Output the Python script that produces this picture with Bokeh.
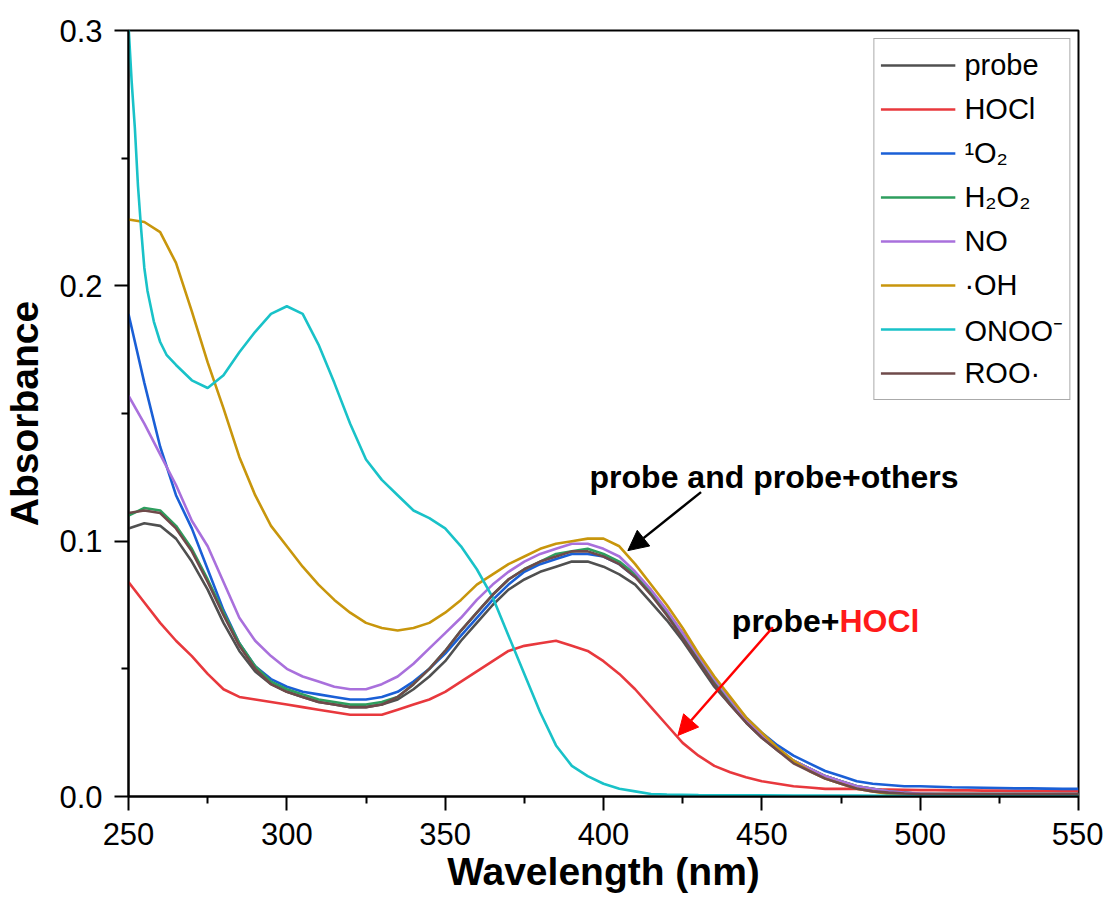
from bokeh.plotting import figure
from bokeh.models import (Legend, LegendItem, Arrow, NormalHead, Label,
                          FixedTicker, PrintfTickFormatter, Range1d)
from bokeh.embed import file_html
from bokeh.resources import INLINE

# ---------------- data ----------------
wavelength = list(range(250, 551, 5))

probe = [0.105, 0.107, 0.106, 0.101, 0.092, 0.081, 0.068, 0.057, 0.049, 0.044, 0.041,
         0.039, 0.037, 0.036, 0.035, 0.035, 0.036, 0.038, 0.042, 0.047, 0.053,
         0.061, 0.068, 0.075, 0.081, 0.085, 0.088, 0.090, 0.092, 0.092, 0.090,
         0.087, 0.083, 0.076, 0.069, 0.061, 0.052, 0.043, 0.036, 0.029, 0.023,
         0.018, 0.014, 0.011, 0.008, 0.006, 0.004, 0.003, 0.002, 0.0015, 0.001,
         0.001, 0.001, 0.001, 0.001, 0.001, 0.001, 0.001, 0.001, 0.001, 0.001]

hocl = [0.084, 0.076, 0.068, 0.061, 0.055, 0.048, 0.042, 0.039, 0.038, 0.037, 0.036,
        0.035, 0.034, 0.033, 0.032, 0.032, 0.032, 0.034, 0.036, 0.038, 0.041,
        0.045, 0.049, 0.053, 0.057, 0.059, 0.060, 0.061, 0.059, 0.057, 0.053,
        0.048, 0.042, 0.035, 0.028, 0.021, 0.016, 0.012, 0.0095, 0.0075, 0.006,
        0.005, 0.004, 0.0035, 0.003, 0.003, 0.003, 0.0028, 0.0027, 0.0026, 0.0025,
        0.0025, 0.0024, 0.0024, 0.0023, 0.0023, 0.0022, 0.0022, 0.0022, 0.0021, 0.0021]

singlet_o2 = [0.189, 0.162, 0.137, 0.118, 0.105, 0.089, 0.073, 0.060, 0.051, 0.046, 0.043,
              0.041, 0.040, 0.039, 0.038, 0.038, 0.039, 0.041, 0.045, 0.050, 0.056,
              0.063, 0.070, 0.077, 0.083, 0.088, 0.091, 0.093, 0.095, 0.095, 0.094,
              0.091, 0.086, 0.080, 0.072, 0.064, 0.055, 0.046, 0.038, 0.031, 0.025,
              0.020, 0.016, 0.013, 0.010, 0.008, 0.006, 0.005, 0.0045, 0.004, 0.004,
              0.0038, 0.0036, 0.0035, 0.0034, 0.0033, 0.0032, 0.0032, 0.0031, 0.003, 0.003]

h2o2 = [0.110, 0.113, 0.112, 0.106, 0.097, 0.085, 0.072, 0.060, 0.051, 0.045, 0.042,
        0.040, 0.038, 0.037, 0.036, 0.036, 0.037, 0.039, 0.044, 0.050, 0.057,
        0.065, 0.072, 0.079, 0.085, 0.089, 0.092, 0.095, 0.096, 0.097, 0.095,
        0.092, 0.087, 0.080, 0.072, 0.063, 0.054, 0.045, 0.037, 0.030, 0.024,
        0.019, 0.014, 0.011, 0.008, 0.006, 0.004, 0.003, 0.002, 0.0015, 0.001,
        0.001, 0.001, 0.001, 0.001, 0.001, 0.001, 0.001, 0.001, 0.001, 0.001]

no = [0.157, 0.146, 0.134, 0.122, 0.108, 0.098, 0.084, 0.070, 0.061, 0.055, 0.050,
      0.047, 0.045, 0.043, 0.042, 0.042, 0.044, 0.047, 0.052, 0.058, 0.064,
      0.070, 0.077, 0.083, 0.088, 0.092, 0.095, 0.097, 0.099, 0.099, 0.097,
      0.094, 0.088, 0.081, 0.073, 0.064, 0.055, 0.046, 0.038, 0.030, 0.024,
      0.019, 0.014, 0.011, 0.008, 0.006, 0.004, 0.003, 0.002, 0.0015, 0.0012,
      0.001, 0.001, 0.001, 0.001, 0.001, 0.001, 0.001, 0.001, 0.001, 0.001]

oh = [0.226, 0.225, 0.221, 0.209, 0.190, 0.170, 0.152, 0.133, 0.118, 0.106, 0.098,
      0.090, 0.083, 0.077, 0.072, 0.068, 0.066, 0.065, 0.066, 0.068, 0.072,
      0.077, 0.083, 0.087, 0.091, 0.094, 0.097, 0.099, 0.100, 0.101, 0.101,
      0.098, 0.091, 0.083, 0.075, 0.066, 0.056, 0.047, 0.039, 0.031, 0.025,
      0.019, 0.014, 0.010, 0.007, 0.005, 0.003, 0.002, 0.001, 0.0008, 0.0006,
      0.0005, 0.0005, 0.0005, 0.0005, 0.0005, 0.0005, 0.0005, 0.0005, 0.0005, 0.0005]

roo = [0.111, 0.112, 0.111, 0.105, 0.096, 0.084, 0.071, 0.059, 0.050, 0.044, 0.041,
       0.039, 0.037, 0.036, 0.035, 0.035, 0.036, 0.039, 0.044, 0.050, 0.057,
       0.065, 0.072, 0.079, 0.085, 0.089, 0.092, 0.094, 0.096, 0.096, 0.094,
       0.091, 0.086, 0.079, 0.071, 0.062, 0.053, 0.044, 0.036, 0.029, 0.023,
       0.018, 0.013, 0.010, 0.007, 0.005, 0.003, 0.002, 0.0015, 0.0012, 0.001,
       0.001, 0.001, 0.001, 0.001, 0.001, 0.001, 0.001, 0.001, 0.001, 0.001]

onoo_wavelength = [250, 251, 252, 253, 254, 255, 256, 258, 260, 262, 265,
                   270, 275, 280, 285, 290, 295, 300, 305, 310, 315, 320, 325, 330,
                   335, 340, 345, 350, 355, 360, 365, 370, 375, 380, 385, 390, 395,
                   400, 405, 410, 415, 420,
                   430, 440, 450, 460, 470, 480, 490, 500, 510, 520, 530, 540, 550]
onoo = [0.302, 0.280, 0.262, 0.239, 0.222, 0.207, 0.198, 0.186, 0.178, 0.173, 0.169,
        0.163, 0.160, 0.165, 0.174, 0.182, 0.189, 0.192, 0.189, 0.177, 0.162, 0.146,
        0.132, 0.124, 0.118, 0.112, 0.109, 0.105, 0.098, 0.089, 0.078, 0.063, 0.048,
        0.033, 0.020, 0.012, 0.008, 0.005, 0.003, 0.002, 0.001, 0.0008,
        0.0006, 0.0005, 0.0005, 0.0004, 0.0004, 0.0004, 0.0003, 0.0003, 0.0003,
        0.0003, 0.0003, 0.0003, 0.0003]

series_labels = ["probe", "HOCl", "\u00b9O\u2082", "H\u2082O\u2082", "NO",
                 "\u00b7OH", "ONOO\u207b", "ROO\u00b7"]
series_colors = ["#505050", "#e8383d", "#1a5fd6", "#2e9e5e", "#a970dc",
                 "#c8960c", "#19c2c8", "#6f4a4a"]

x_ticks = [250, 300, 350, 400, 450, 500, 550]
x_minor = [275, 325, 375, 425, 475, 525]
y_ticks = [0.0, 0.1, 0.2, 0.3]
y_minor = [0.05, 0.15, 0.25]

FONT = "Liberation Sans"

# ---------------- figure ----------------
p = figure(frame_width=950, frame_height=766,
           x_range=Range1d(250, 550), y_range=Range1d(0, 0.3),
           output_backend="svg", toolbar_location=None,
           min_border_left=121, min_border_top=30,
           min_border_right=25, min_border_bottom=80,
           background_fill_color="white", border_fill_color="white")

p.xgrid.visible = False
p.ygrid.visible = False
p.outline_line_color = "black"
p.outline_line_width = 2

p.xaxis.ticker = FixedTicker(ticks=x_ticks, minor_ticks=x_minor)
p.yaxis.ticker = FixedTicker(ticks=y_ticks, minor_ticks=y_minor)
p.yaxis.formatter = PrintfTickFormatter(format="%.1f")

for ax in (p.xaxis[0], p.yaxis[0]):
    ax.axis_line_width = 2
    ax.axis_line_color = "black"
    ax.major_tick_line_width = 2
    ax.minor_tick_line_width = 2
    ax.major_tick_line_color = "black"
    ax.minor_tick_line_color = "black"
    ax.major_tick_in = 0
    ax.major_tick_out = 14
    ax.minor_tick_in = 0
    ax.minor_tick_out = 7
    ax.major_label_text_font = FONT
    ax.major_label_text_font_size = "31px"
    ax.major_label_text_color = "black"
    ax.major_label_standoff = 12
    ax.axis_label_text_font = FONT
    ax.axis_label_text_font_size = "39px"
    ax.axis_label_text_font_style = "bold"
    ax.axis_label_text_color = "black"

p.xaxis.axis_label = "Wavelength (nm)"
p.yaxis.axis_label = "Absorbance"
p.xaxis.axis_label_standoff = 2
p.yaxis.axis_label_standoff = 10

all_x = [wavelength] * 6 + [onoo_wavelength, wavelength]
all_y = [probe, hocl, singlet_o2, h2o2, no, oh, onoo, roo]

items = []
for xs, ys, lab, col in zip(all_x, all_y, series_labels, series_colors):
    r = p.line(xs, ys, line_color=col, line_width=2.6)
    items.append(LegendItem(label=lab, renderers=[r]))

legend = Legend(items=items, location="top_right", margin=8,
                padding=6, spacing=4, label_height=40, glyph_height=40,
                glyph_width=75, label_standoff=9,
                label_text_font=FONT, label_text_font_size="29px",
                label_text_color="black",
                border_line_color="#555555", border_line_width=1,
                background_fill_color="white", background_fill_alpha=1)
p.add_layout(legend)

# ---------------- annotations ----------------
p.add_layout(Label(x=395.6, y=0.1253, text="probe and probe+others",
                   text_font=FONT, text_font_style="bold", text_font_size="32px",
                   text_color="black", text_baseline="alphabetic"))
p.add_layout(Arrow(end=NormalHead(size=20, fill_color="black", line_color="black"),
                   x_start=430.8, y_start=0.1192, x_end=407.7, y_end=0.0963,
                   line_color="black", line_width=2.5))

p.add_layout(Label(x=474.5, y=0.0689, text="probe+",
                   text_font=FONT, text_font_style="bold", text_font_size="32px",
                   text_color="black", text_baseline="alphabetic", text_align="right"))
p.add_layout(Label(x=474.5, y=0.0689, text="HOCl",
                   text_font=FONT, text_font_style="bold", text_font_size="32px",
                   text_color="#ff1a1a", text_baseline="alphabetic", text_align="left"))
p.add_layout(Arrow(end=NormalHead(size=20, fill_color="#ff0000", line_color="#ff0000"),
                   x_start=453.5, y_start=0.0663, x_end=423.5, y_end=0.0239,
                   line_color="#ff0000", line_width=2.5))

open("out.html", "w").write(file_html(p, INLINE))
